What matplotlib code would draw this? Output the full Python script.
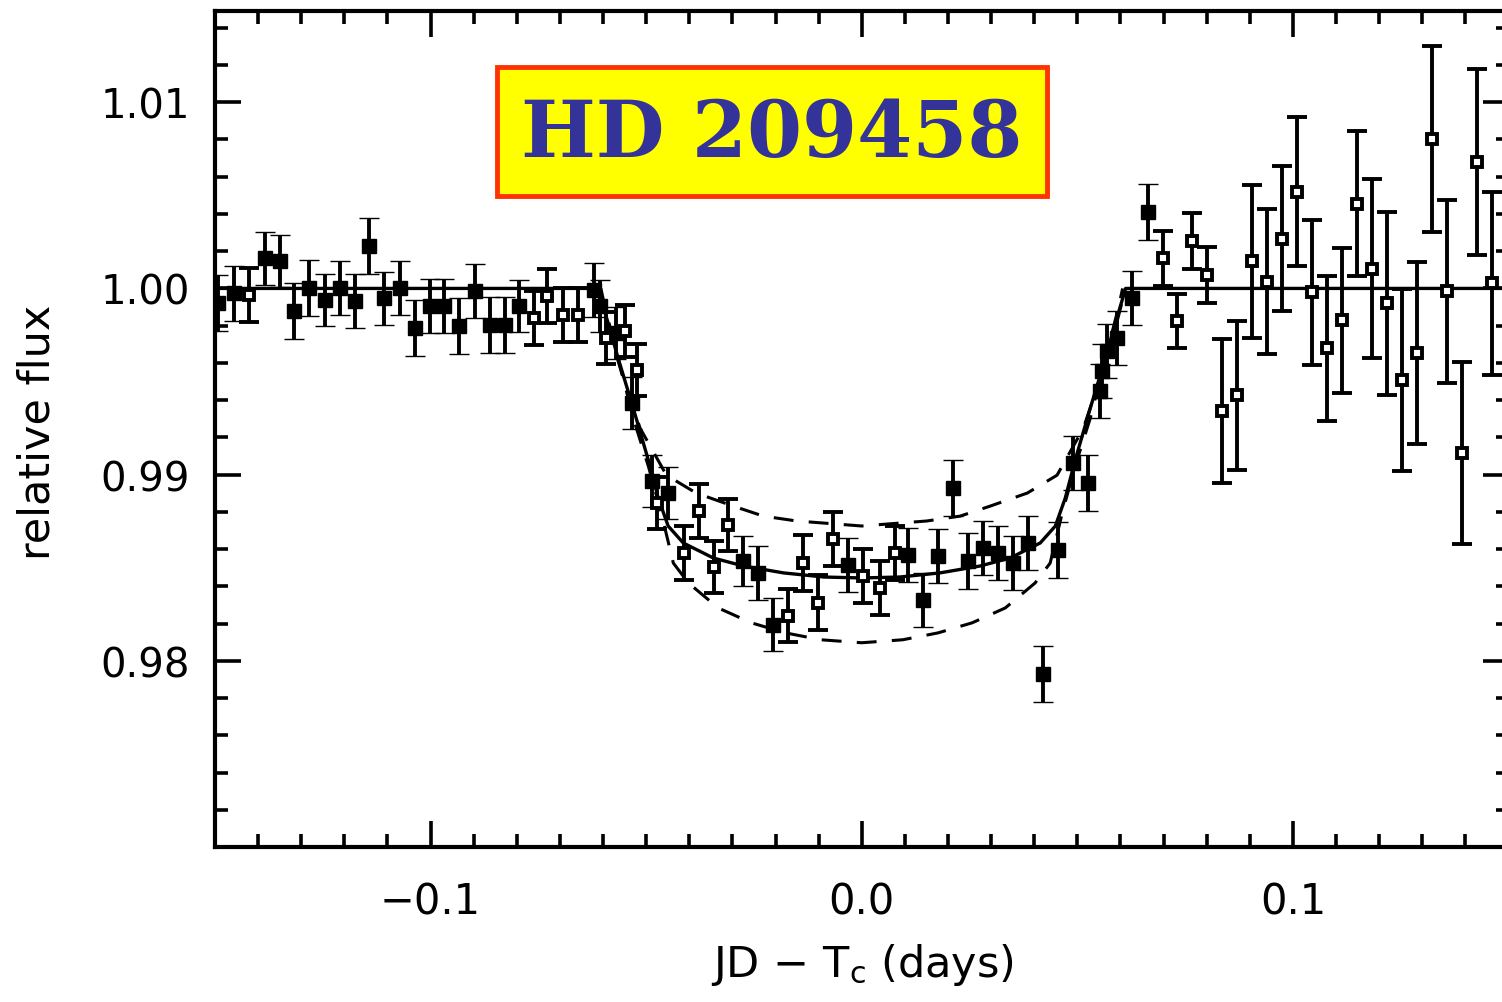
"""
HD 209458 transit light curve - relative flux vs. time from mid-transit
"""
import matplotlib
matplotlib.use('Agg')
import matplotlib.pyplot as plt
from matplotlib.patches import Rectangle
from matplotlib.ticker import MultipleLocator

# filled squares (night 1)
t_filled = [-0.1492, -0.1455, -0.1385, -0.1350, -0.1316, -0.1281, -0.1246, -0.1211,
            -0.1176, -0.1142, -0.1107, -0.1072, -0.1037, -0.1002, -0.0968, -0.0933,
            -0.0898, -0.0863, -0.0828, -0.0794, -0.0622, -0.0606, -0.0571, -0.0533,
            -0.0487, -0.0450, -0.0276, -0.0241, -0.0206, -0.0032, 0.0107, 0.0142,
            0.0176, 0.0211, 0.0246, 0.0281, 0.0316, 0.0350, 0.0385, 0.0420,
            0.0455, 0.0490, 0.0524, 0.0552, 0.0557, 0.0568, 0.0592, 0.0626, 0.0664]
f_filled = [0.9992, 0.99973, 1.00161, 1.00145, 0.99877, 1.0, 0.99936, 1.0,
            0.9993, 1.0023, 0.99946, 1.0, 0.99786, 0.99904, 0.99904, 0.99796,
            0.99984, 0.99802, 0.99802, 0.99904, 0.99989, 0.99905, 0.99759, 0.99384,
            0.98966, 0.98902, 0.98538, 0.98473, 0.98195, 0.98516, 0.9857, 0.98329,
            0.98565, 0.98929, 0.98538, 0.98607, 0.98581, 0.98527, 0.98634, 0.97927,
            0.98597, 0.99063, 0.98956, 0.99448, 0.99555, 0.99663, 0.99732, 0.99946, 1.00412]
e_filled = [0.0015, 0.0015, 0.0014, 0.0014, 0.0015, 0.0015, 0.0014, 0.00145,
            0.00145, 0.0015, 0.0014, 0.00145, 0.0015, 0.00145, 0.00145, 0.0015,
            0.00145, 0.0015, 0.0015, 0.0014, 0.00145, 0.0014, 0.0014, 0.0014,
            0.0014, 0.0014, 0.00135, 0.00145, 0.00145, 0.00145, 0.00145, 0.00145,
            0.00145, 0.0015, 0.0015, 0.00145, 0.00145, 0.00145, 0.00145, 0.0015,
            0.0015, 0.00145, 0.0015, 0.00145, 0.00145, 0.00145, 0.00145, 0.00145, 0.0015]

# open squares (night 2)
t_open = [-0.1420, -0.0759, -0.0729, -0.0694, -0.0659, -0.0592, -0.0548, -0.0522,
          -0.0476, -0.0413, -0.0378, -0.0343, -0.0311, -0.0172, -0.0137, -0.0102,
          -0.0067, 0.0002, 0.0042, 0.0077, 0.0698, 0.0731, 0.0766, 0.0800,
          0.0835, 0.0870, 0.0905, 0.0940, 0.0974, 0.1009, 0.1044, 0.1079,
          0.1114, 0.1148, 0.1183, 0.1218, 0.1253, 0.1288, 0.1323, 0.1357,
          0.1392, 0.1427, 0.1462]
f_open = [0.99963, 0.99839, 0.99957, 0.99855, 0.99855, 0.99732, 0.9977, 0.99561,
          0.98849, 0.98581, 0.98806, 0.98506, 0.98731, 0.98243, 0.98527, 0.98313,
          0.98656, 0.98457, 0.98393, 0.98581, 1.00161, 0.99823, 1.00257, 1.0007,
          0.99341, 0.99427, 1.00145, 1.00037, 1.00268, 1.0052, 0.99979, 0.99679,
          0.99829, 1.00455, 1.00107, 0.9992, 0.99507, 0.99652, 1.00803, 0.99984,
          0.99116, 1.0068, 1.00027]
e_open = [0.00145, 0.00145, 0.00145, 0.00145, 0.00145, 0.0014, 0.0014, 0.0014,
          0.0014, 0.00145, 0.00145, 0.0014, 0.0014, 0.0014, 0.0015, 0.0015,
          0.00145, 0.00145, 0.00145, 0.00145, 0.0015, 0.00145, 0.0015, 0.0015,
          0.00386, 0.0040, 0.0041, 0.0039, 0.0039, 0.0040, 0.0039, 0.0039,
          0.0039, 0.0039, 0.0048, 0.0049, 0.0049, 0.0049, 0.0050, 0.0049,
          0.0049, 0.0050, 0.0049]

# best-fit model (solid)
t_fit = [-0.15, -0.0612, -0.0588, -0.0565, -0.0530, -0.0495, -0.0472, -0.0449,
         -0.0414, -0.0344, -0.0274, -0.0181, -0.0088, 0.0, 0.0088, 0.0181,
         0.0274, 0.0344, 0.0414, 0.0449, 0.0472, 0.0495, 0.0530, 0.0565,
         0.0588, 0.0612, 0.15]
f_fit = [1.0, 1.0, 0.99812, 0.99625, 0.99357, 0.99078, 0.98874, 0.98724,
         0.98633, 0.98552, 0.98509, 0.98472, 0.9845, 0.98445, 0.9845, 0.98472,
         0.98509, 0.98552, 0.98633, 0.98724, 0.98874, 0.99078, 0.99357, 0.99625,
         0.99812, 1.0, 1.0]

# shallower alternative model (dashed)
t_shallow = [-0.0612, -0.0588, -0.0553, -0.0514, -0.0453, -0.0384, -0.0298, -0.0228,
             -0.0151, 0.0, 0.0151, 0.0228, 0.0298, 0.0384, 0.0453, 0.0514,
             0.0553, 0.0588, 0.0612]
f_shallow = [1.0, 0.99786, 0.99517, 0.99249, 0.98997, 0.98901, 0.98831, 0.98777,
             0.98751, 0.98724, 0.98751, 0.98777, 0.98831, 0.98901, 0.98997, 0.99249,
             0.99517, 0.99786, 1.0]

# deeper alternative model (dashed)
t_deep = [-0.0605, -0.0595, -0.0565, -0.0530, -0.0495, -0.0465, -0.0437, -0.0402,
          -0.0333, -0.0256, -0.0177, -0.0095, 0.0, 0.0095, 0.0177, 0.0256,
          0.0333, 0.0402, 0.0437, 0.0465, 0.0495, 0.0530, 0.0565, 0.0595, 0.0605]
f_deep = [1.0, 0.99893, 0.99625, 0.99303, 0.99046, 0.98794, 0.98525, 0.98418,
          0.98284, 0.98204, 0.9815, 0.98113, 0.98097, 0.98113, 0.9815, 0.98204,
          0.98284, 0.98418, 0.98525, 0.98794, 0.99046, 0.99303, 0.99625, 0.99893, 1.0]

y_labeled = [0.98, 0.99, 1.00, 1.01]

W, H = 1502, 1003
fig = plt.figure(figsize=(W / 100, H / 100), dpi=100)
ax = fig.add_axes([215 / W, 1 - 848 / H, (1508.5 - 215) / W, (848 - 12) / H])

# models
ax.plot(t_fit, f_fit, color='black', lw=2.4, zorder=2)
ax.plot(t_shallow, f_shallow, color='black', lw=2.2, dashes=(6.5, 5), zorder=2)
ax.plot(t_deep, f_deep, color='black', lw=2.2, dashes=(6.5, 5), zorder=2)

# data
ax.errorbar(t_filled, f_filled, yerr=e_filled, fmt='s', color='black',
            ms=9.5, mew=1, ecolor='black', elinewidth=2.8, capsize=7,
            capthick=2.8, zorder=3)
ax.errorbar(t_open, f_open, yerr=e_open, fmt='s', color='black',
            mfc='white', mec='black', ms=7, mew=2.8, ecolor='black',
            elinewidth=2.8, capsize=7, capthick=2.8, zorder=3)

ax.set_xlim(-0.15, 0.15)
ax.set_ylim(0.97, 1.0149)
ax.xaxis.set_major_locator(MultipleLocator(0.1))
ax.xaxis.set_minor_locator(MultipleLocator(0.01))
ax.yaxis.set_major_locator(MultipleLocator(0.01))
ax.yaxis.set_minor_locator(MultipleLocator(0.002))
ax.xaxis.set_major_formatter(plt.FuncFormatter(lambda v, p: f"{v:.1f}".replace('-', '\u2212')))
ax.yaxis.set_major_formatter(plt.FuncFormatter(
    lambda v, p: f"{v:.2f}" if any(abs(v - y) < 1e-6 for y in y_labeled) else ""))

ax.tick_params(which='both', direction='in', top=True, right=True, width=2.6, color='black')
ax.tick_params(which='major', length=19)
ax.tick_params(which='minor', length=9.5)
ax.tick_params(axis='y', which='major', labelsize=29, pad=18)
ax.tick_params(axis='x', which='major', labelsize=30, pad=24)
for s in ax.spines.values():
    s.set_linewidth(3)

fig.text(38 / W, 1 - 432 / H, 'relative flux', rotation=90, ha='center', va='center', fontsize=31)
fig.text(862 / W, 1 - 965 / H, r'JD $-$ T$_\mathrm{c}$ (days)', ha='center', va='center', fontsize=31)

# title box
fig.patches.append(Rectangle((497 / W, 1 - 197 / H), 550 / W, 129 / H, transform=fig.transFigure,
                             facecolor='#FFFF00', edgecolor='#FF3300', lw=3.5, zorder=5))
fig.text(772 / W, 1 - 135 / H, 'HD 209458', ha='center', va='center', fontsize=57,
         fontweight='bold', family='DejaVu Serif', color='#333399', zorder=6)

fig.savefig('out.png', dpi=100)
